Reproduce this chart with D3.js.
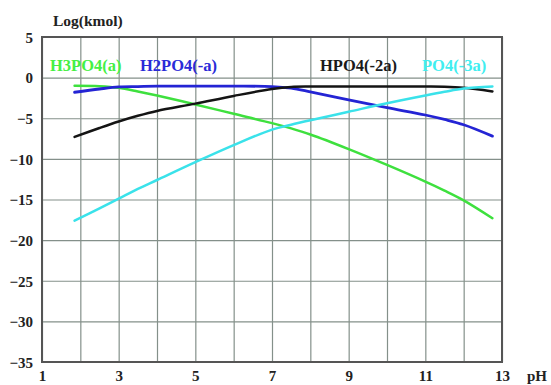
<!DOCTYPE html>
<html>
<head>
<meta charset="utf-8">
<script src="https://cdn.jsdelivr.net/npm/d3@7"></script>
<style>
  html, body { margin: 0; padding: 0; background: #fff; }
  svg { display: block; }
  text { font-family: "Liberation Serif", "Times New Roman", serif; font-weight: bold; }
</style>
</head>
<body>
<script>
// Phosphate speciation vs pH (log concentration, kmol)
const phPoints = [1.85, 2.5, 3, 3.5, 4, 5, 6, 7, 7.5, 8, 9, 10, 11, 11.5, 12, 12.75];
const h3po4 = [-1.0, -1.05, -1.25, -1.7, -2.2, -3.3, -4.45, -5.6, -6.25, -7.0, -8.8, -10.75, -12.8, -13.9, -15.1, -17.3];
const h2po4 = [-1.8, -1.4, -1.15, -1.1, -1.05, -1.05, -1.05, -1.1, -1.3, -1.75, -2.75, -3.7, -4.6, -5.15, -5.8, -7.2];
const hpo4  = [-7.3, -6.2, -5.4, -4.7, -4.1, -3.2, -2.25, -1.4, -1.15, -1.1, -1.1, -1.1, -1.1, -1.12, -1.25, -1.7];
const po4   = [-17.6, -16.1, -14.9, -13.7, -12.6, -10.4, -8.3, -6.4, -5.8, -5.25, -4.2, -3.15, -2.2, -1.75, -1.35, -1.1];

const seriesNames = ["H3PO4(a)", "H2PO4(-a)", "HPO4(-2a)", "PO4(-3a)"];
const seriesValues = [h3po4, h2po4, hpo4, po4];
const seriesColors = ["#3ee03e", "#2424d4", "#141414", "#3ae2ea"];
const legendColors = ["#44f044", "#2a2ad8", "#1a1a1a", "#40eef0"];
const legendX = [50, 140, 320, 422];

const xGridTicks = d3.range(1, 14);
const xLabelTicks = [1, 3, 5, 7, 9, 11, 13];
const yTicks = [5, 0, -5, -10, -15, -20, -25, -30, -35];

const W = 551, H = 385;
const plotL = 42, plotR = 502, plotT = 37, plotB = 362;

const svg = d3.select("body").append("svg").attr("width", W).attr("height", H);

const x = d3.scaleLinear().domain([1, 13]).range([plotL, plotR]);
const y = d3.scaleLinear().domain([-35, 5]).range([plotB, plotT]);

// grid
const gx = svg.append("g").attr("transform", `translate(0,${plotB})`)
  .call(d3.axisBottom(x).tickValues(xGridTicks).tickSize(-(plotB - plotT)).tickFormat(""));
gx.select(".domain").remove();
gx.selectAll("line").attr("stroke", "#84908a").attr("stroke-width", 1.2);

const gy = svg.append("g").attr("transform", `translate(${plotL},0)`)
  .call(d3.axisLeft(y).tickValues(yTicks).tickSize(-(plotR - plotL)).tickFormat(""));
gy.select(".domain").remove();
gy.selectAll("line").attr("stroke", "#84908a").attr("stroke-width", 1.2);

// frame
svg.append("rect").attr("x", plotL).attr("y", plotT)
  .attr("width", plotR - plotL).attr("height", plotB - plotT)
  .attr("fill", "none").attr("stroke", "#555").attr("stroke-width", 2);

// tick labels
const ly = svg.append("g").attr("transform", `translate(${plotL - 9},0)`)
  .call(d3.axisLeft(y).tickValues(yTicks).tickSize(0).tickFormat(d3.format("d")));
ly.select(".domain").remove();
ly.selectAll("text").attr("font-size", 15).attr("fill", "#222")
  .attr("font-family", "Liberation Serif, serif").attr("font-weight", "bold")
  .attr("dy", "0.35em").attr("x", 0);

const lx = svg.append("g").attr("transform", `translate(0,${plotB})`)
  .call(d3.axisBottom(x).tickValues(xLabelTicks).tickSize(0).tickFormat(d3.format("d")));
lx.select(".domain").remove();
lx.selectAll("text").attr("font-size", 15).attr("fill", "#222")
  .attr("font-family", "Liberation Serif, serif").attr("font-weight", "bold")
  .attr("y", 8).attr("dy", "0.71em");

svg.append("text").attr("x", 527).attr("y", 381).attr("font-size", 15).attr("fill", "#222").text("pH");
svg.append("text").attr("x", 53).attr("y", 26).attr("font-size", 15.5).attr("fill", "#222").text("Log(kmol)");

// curves
const line = d3.line().x(d => x(d[0])).y(d => y(d[1])).curve(d3.curveCatmullRom.alpha(0.5));
seriesValues.forEach((vals, i) => {
  svg.append("path")
    .datum(phPoints.map((p, j) => [p, vals[j]]))
    .attr("fill", "none")
    .attr("stroke", seriesColors[i])
    .attr("stroke-width", i === 1 ? 2.8 : 2.5)
    .attr("stroke-linecap", "round")
    .attr("d", line);
});

// legend labels
seriesNames.forEach((name, i) => {
  svg.append("text").attr("x", legendX[i]).attr("y", 71)
    .attr("font-size", 16.5)
    .attr("fill", legendColors[i]).text(name);
});
</script>
</body>
</html>
